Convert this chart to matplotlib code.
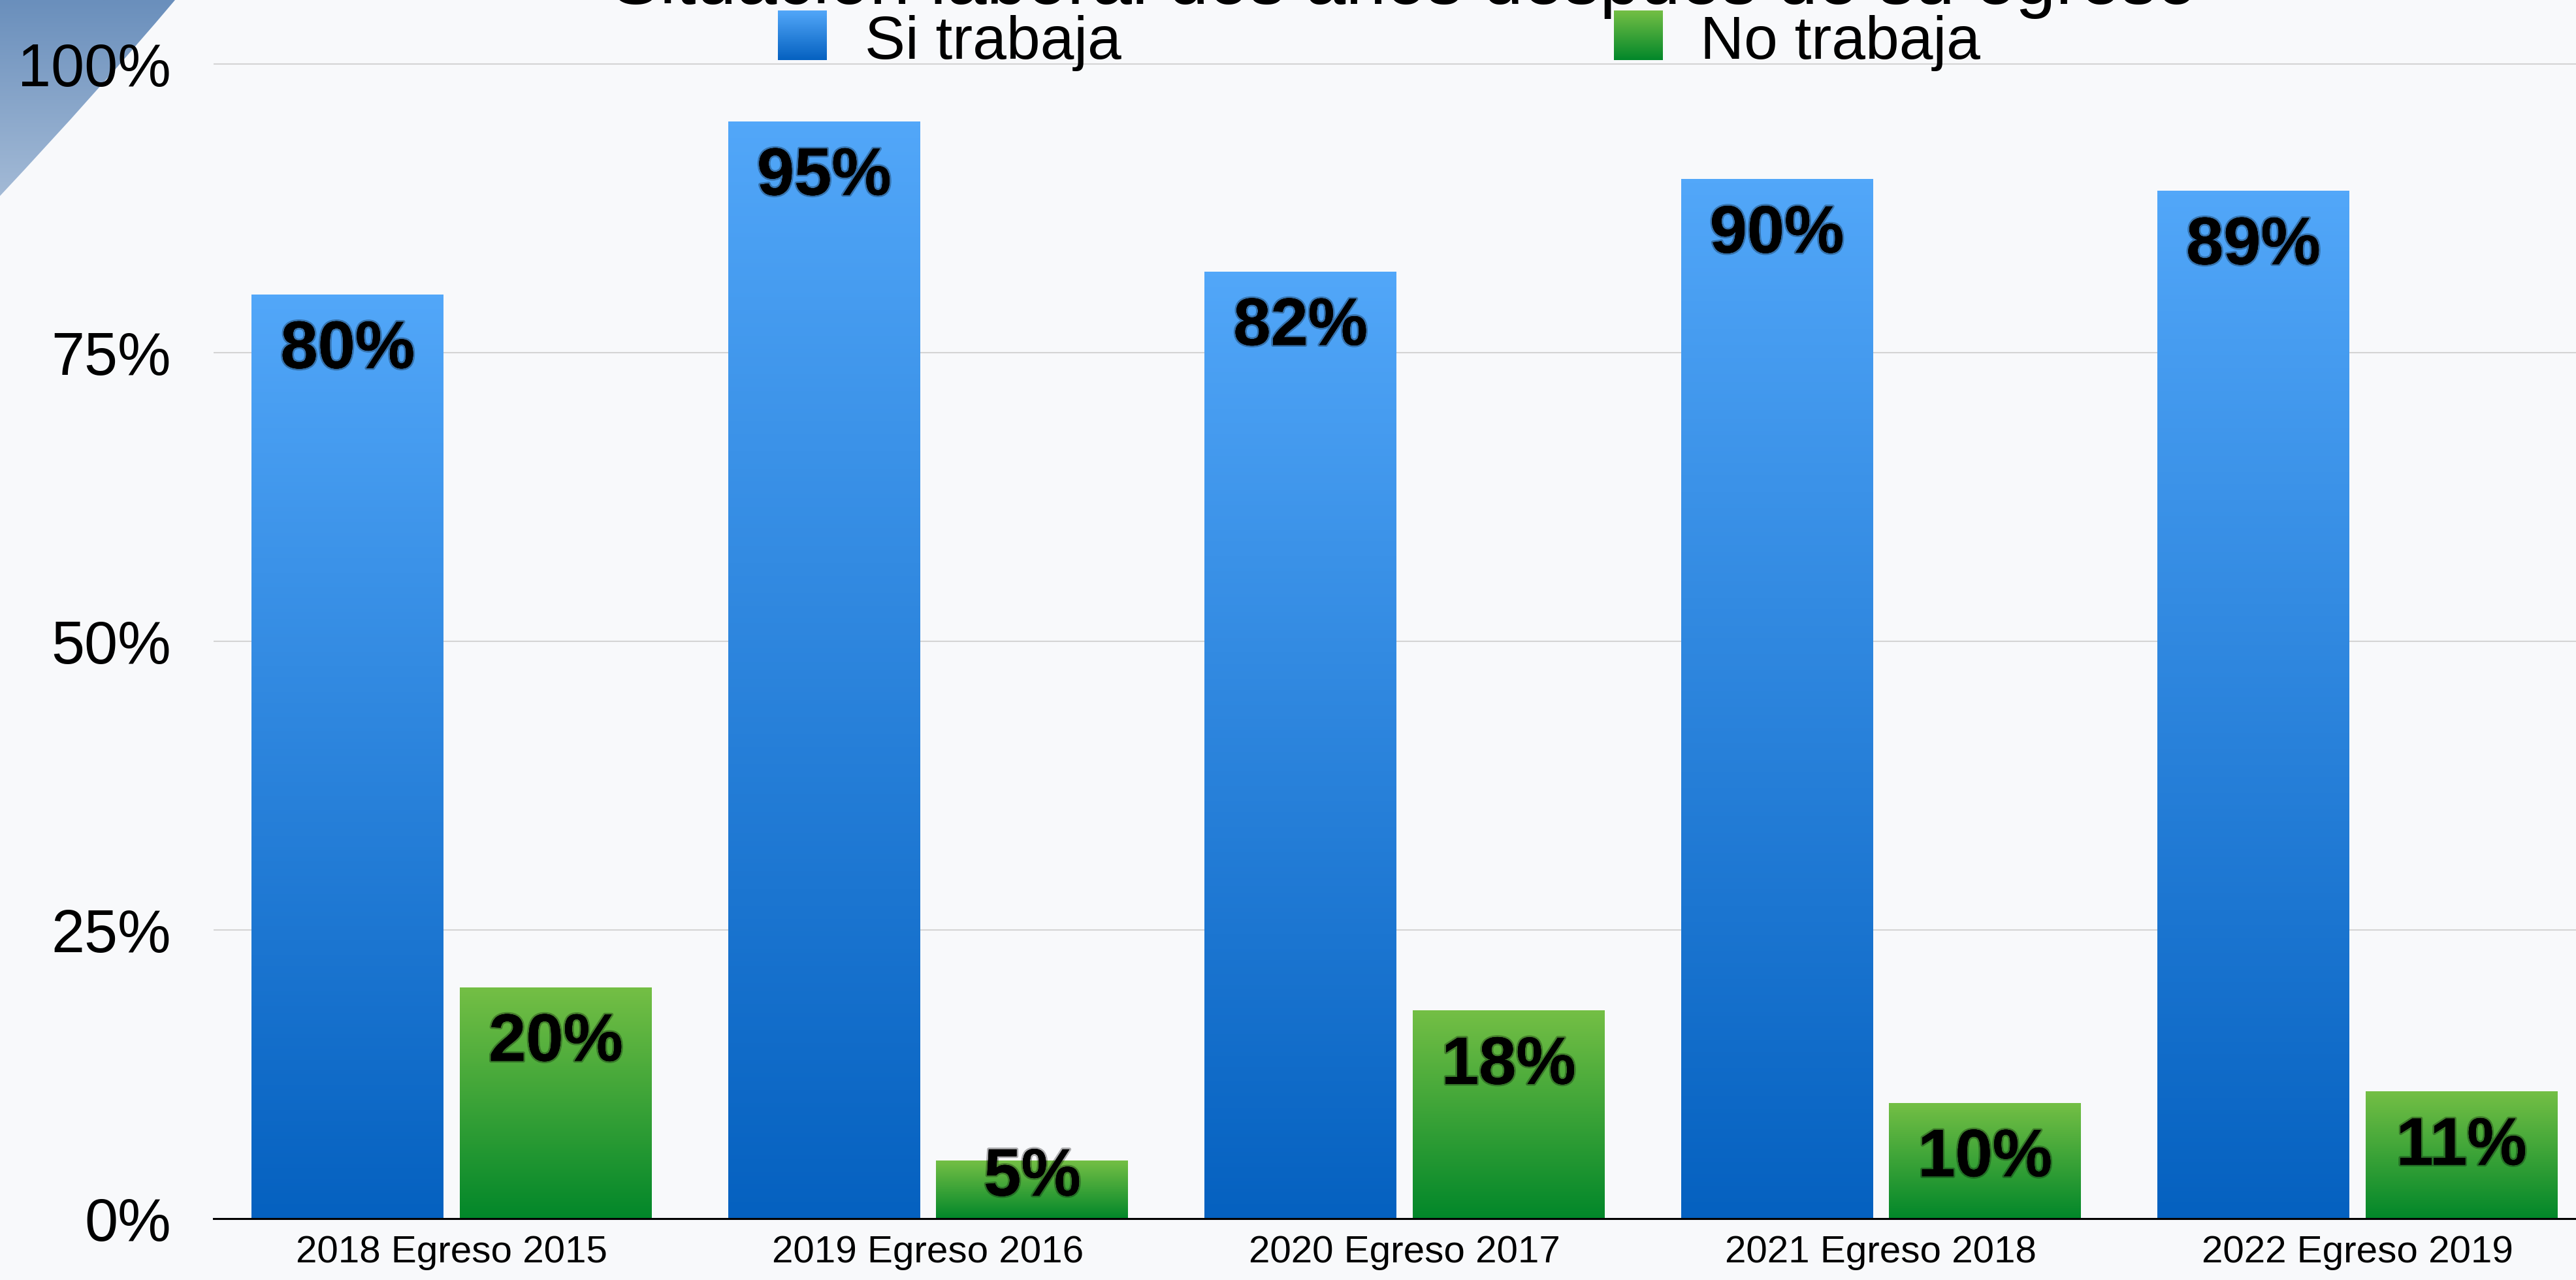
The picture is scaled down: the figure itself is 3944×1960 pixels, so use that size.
import numpy as np
import matplotlib
matplotlib.use('Agg')
import matplotlib.pyplot as plt
import matplotlib.patheffects as pe
from matplotlib.path import Path
from matplotlib.patches import PathPatch

plt.rcParams['font.family'] = ['Liberation Sans', 'DejaVu Sans']

# Data
categories = ['2018 Egreso 2015', '2019 Egreso 2016', '2020 Egreso 2017',
              '2021 Egreso 2018', '2022 Egreso 2019']
si_trabaja = [80, 95, 82, 90, 89]
no_trabaja = [20, 5, 18, 10, 11]
series_names = ['Si trabaja', 'No trabaja']
yticks = [0, 25, 50, 75, 100]
title = 'Situación laboral dos años después de su egreso'

W, H = 3944, 1960
blue_top, blue_bot = '#52a7f9', '#0561c0'
green_top, green_bot = '#74bf45', '#02872a'


def gradient(top, bot, n=256):
    c0 = np.array(matplotlib.colors.to_rgb(top))
    c1 = np.array(matplotlib.colors.to_rgb(bot))
    t = np.linspace(0, 1, n)[:, None]
    return (c0 * (1 - t) + c1 * t)[:, None, :]


fig = plt.figure(figsize=(W / 100, H / 100), dpi=100)
fig.patch.set_facecolor('#f8f9fb')

# background decoration (top-left swoosh)
bg = fig.add_axes([0, 0, 1, 1], zorder=-5)
bg.set_xlim(0, W)
bg.set_ylim(H, 0)
bg.axis('off')
swoosh = Path([(0, 0), (268, 0), (150, 140), (0, 300), (0, 0)],
              [Path.MOVETO, Path.LINETO, Path.CURVE3, Path.CURVE3, Path.CLOSEPOLY])
patch = PathPatch(swoosh, facecolor='none', edgecolor='none')
bg.add_patch(patch)
im = bg.imshow(gradient('#6a8fbc', '#a3bad6'), extent=(0, 300, 300, 0), aspect='auto')
im.set_clip_path(patch)

ax = fig.add_axes([327 / W, 94 / H, (3974 - 327) / W, (1866 - 80.4) / H])
ax.patch.set_alpha(0)

x = np.arange(len(categories))
bw = 0.403
off = (bw + 0.034) / 2
bars_si = ax.bar(x - off, si_trabaja, bw, color='none', zorder=2)
bars_no = ax.bar(x + off, no_trabaja, bw, color='none', zorder=2)

for bars, vals, (ct, cb) in [(bars_si, si_trabaja, (blue_top, blue_bot)),
                             (bars_no, no_trabaja, (green_top, green_bot))]:
    for b, v in zip(bars, vals):
        x0 = b.get_x()
        ax.imshow(gradient(ct, cb), extent=(x0, x0 + b.get_width(), 0, v),
                  aspect='auto', zorder=2)
        ybase = max(v - 6.33, 2.0)
        ax.text(x0 + b.get_width() / 2, ybase, f'{v}%', ha='center', va='baseline',
                fontsize=74, fontweight='bold', color='black', zorder=4,
                path_effects=[pe.withStroke(linewidth=4, foreground=(0, 0, 0, 0.3)),
                              pe.Normal()])

ax.set_xlim(-0.5, 4.5)
ax.set_ylim(0, 101)
ax.set_yticks(yticks)
ax.set_yticklabels([f'{t}%' for t in yticks], fontsize=66)
ax.set_xticks(x)
ax.set_xticklabels(categories, fontsize=42)
ax.tick_params(axis='y', length=0, pad=47)
ax.tick_params(axis='x', length=0, pad=18)
ax.yaxis.grid(True, color='#d4d4d4', linewidth=1.5, zorder=0)
ax.set_axisbelow(True)
for s in ['top', 'right', 'left']:
    ax.spines[s].set_visible(False)
ax.spines['bottom'].set_color('black')
ax.spines['bottom'].set_linewidth(2.2)
ax.spines['bottom'].set_zorder(5)

# title (partly cut off at the top, as in the source)
fig.text(2150 / W, 1 - 6 / H, title, ha='center', va='baseline', fontsize=80)

# legend with gradient swatches
legend_items = [(series_names[0], blue_top, blue_bot, 1191, 1324),
                (series_names[1], green_top, green_bot, 2471, 2603)]
for name, ct, cb, px, tx in legend_items:
    sw = fig.add_axes([px / W, 1 - 92 / H, 75 / W, 76 / H])
    sw.imshow(gradient(ct, cb), aspect='auto')
    sw.axis('off')
    fig.text(tx / W, 1 - 90 / H, name, ha='left', va='baseline', fontsize=67)

fig.savefig('out.png', dpi=100, facecolor=fig.get_facecolor())
